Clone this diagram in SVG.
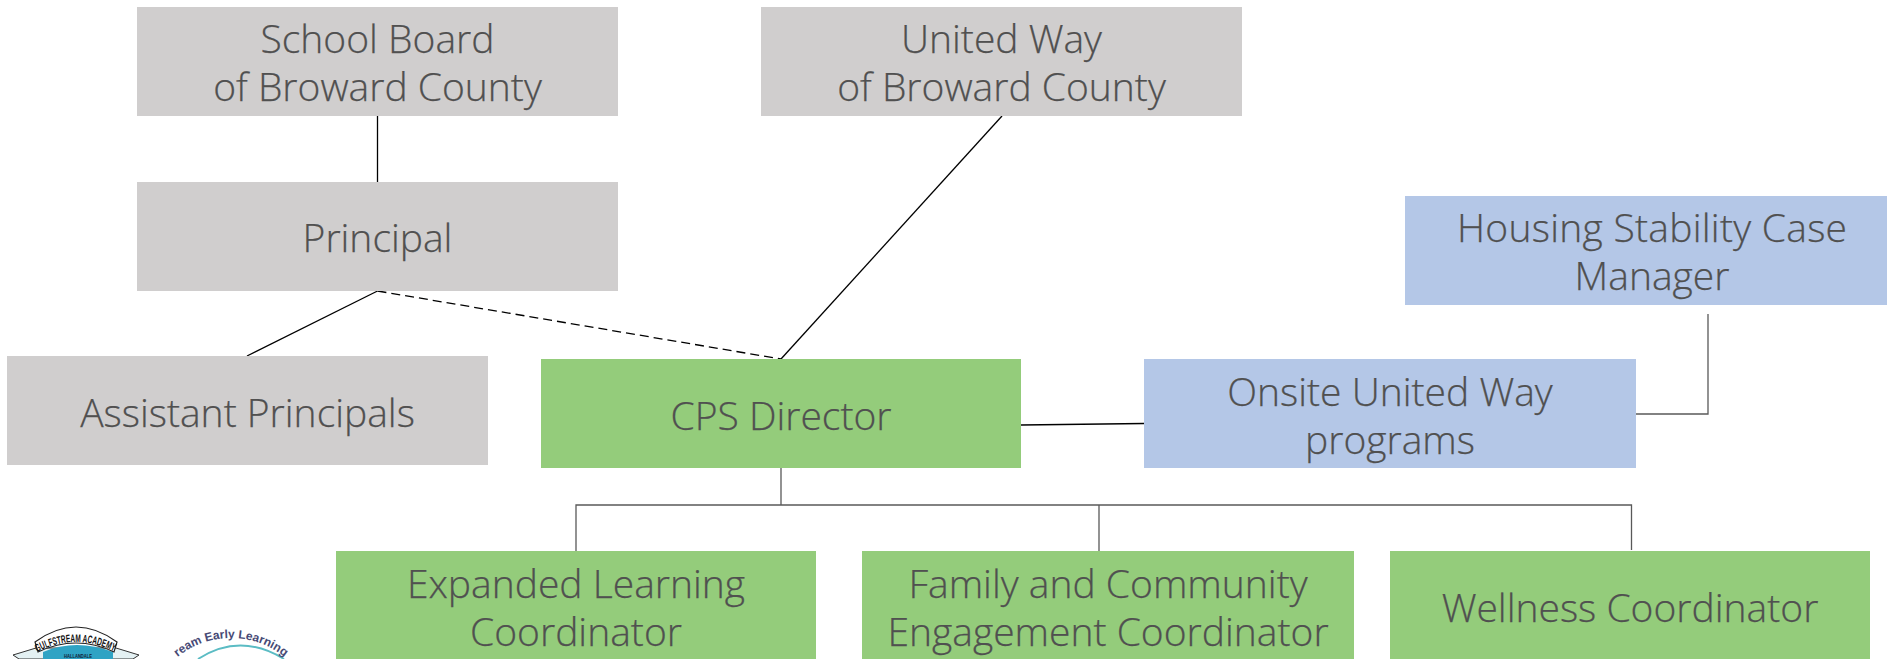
<svg xmlns="http://www.w3.org/2000/svg" width="1887" height="659" viewBox="0 0 1887 659">
<style>
.g{fill:#d0cece}.v{fill:#94cc7b}.b{fill:#b4c7e7}
.t{font-family:"Open Sans","Noto Sans","Liberation Sans",sans-serif;font-size:39px;font-weight:300;fill:#505050;text-anchor:middle;stroke:#505050;stroke-width:.25}
.k{stroke:#000;stroke-width:1.3;fill:none}
.d{stroke:#595959;stroke-width:1.3;fill:none}
.l{font-family:"Liberation Sans",sans-serif;text-anchor:middle}
.s{font-family:"Liberation Sans",sans-serif;text-anchor:start}
</style>
<defs>
<path id="arc1" d="M37 652Q76 632 115 652L125 660"/>
<path id="arc2" d="M146 723A85 85 0 0 1 316 723"/>
</defs>
<rect width="1887" height="659" fill="#fff"/>
<g id="connectors">
<path class="k" d="M377.500 116V182"/>
<path class="k" d="M377.500 291L247 356"/>
<path class="k" d="M377.500 291L781 359" stroke-dasharray="9 5"/>
<path class="k" d="M1002 116L781 359"/>
<path class="k" d="M1021 425L1144 423.500"/>
<path class="d" d="M1636 414H1708V314"/>
<path class="d" d="M781 468V505M576 551V505H1631.500V550M1099 505V551"/>
</g>
<g id="school-board"><rect class="g" x="137" y="7" width="481" height="109"/><text class="t" x="377.500" y="53">School Board</text><text class="t" x="377.500" y="101">of Broward County</text></g>
<g id="united-way"><rect class="g" x="761" y="7" width="481" height="109"/><text class="t" x="1001.500" y="53">United Way</text><text class="t" x="1001.500" y="101">of Broward County</text></g>
<g id="principal"><rect class="g" x="137" y="182" width="481" height="109"/><text class="t" x="377.500" y="252">Principal</text></g>
<g id="assistant-principals"><rect class="g" x="7" y="356" width="481" height="109"/><text class="t" x="247.500" y="427">Assistant Principals</text></g>
<g id="cps-director"><rect class="v" x="541" y="359" width="480" height="109"/><text class="t" x="781" y="430">CPS Director</text></g>
<g id="onsite"><rect class="b" x="1144" y="359" width="492" height="109"/><text class="t" x="1390" y="406">Onsite United Way</text><text class="t" x="1390" y="454">programs</text></g>
<g id="housing"><rect class="b" x="1405" y="196" width="482" height="109"/><text class="t" x="1652" y="242" textLength="390">Housing Stability Case</text><text class="t" x="1652" y="290">Manager</text></g>
<g id="expanded"><rect class="v" x="336" y="551" width="480" height="108"/><text class="t" x="576" y="598">Expanded Learning</text><text class="t" x="576" y="646">Coordinator</text></g>
<g id="family"><rect class="v" x="862" y="551" width="492" height="108"/><text class="t" x="1108" y="598">Family and Community</text><text class="t" x="1108" y="646">Engagement Coordinator</text></g>
<g id="wellness"><rect class="v" x="1390" y="551" width="480" height="108"/><text class="t" x="1630" y="622">Wellness Coordinator</text></g>
<g id="logo-gulfstream">
<path d="M36 648L13 655L19 659H133L139 655L116 648Z" fill="#e4f1f3" stroke="#333" stroke-width="1"/>
<path d="M43 659V652Q76 638 113 652V659Z" fill="#2fa3c4"/>
<path d="M35 642Q76 612 117 642L114 652Q76 634 38 652Z" fill="#fff" stroke="#222" stroke-width="1.2"/>
<text class="s" font-size="11" font-weight="700" fill="#111"><textPath href="#arc1" textLength="80" lengthAdjust="spacingAndGlyphs">GULFSTREAM ACADEMY</textPath></text>
<text class="l" x="78" y="658" font-size="6" font-weight="700" fill="#123" textLength="28" lengthAdjust="spacingAndGlyphs">HALLANDALE</text>
</g>
<g id="logo-early-learning">
<path d="M198 659Q240 632 284 659" fill="none" stroke="#5bbcc4" stroke-width="2"/>
<text class="l" font-size="12" font-weight="700" fill="#474a75"><textPath href="#arc2" startOffset="50%">ream Early Learning</textPath></text>
</g>
</svg>
